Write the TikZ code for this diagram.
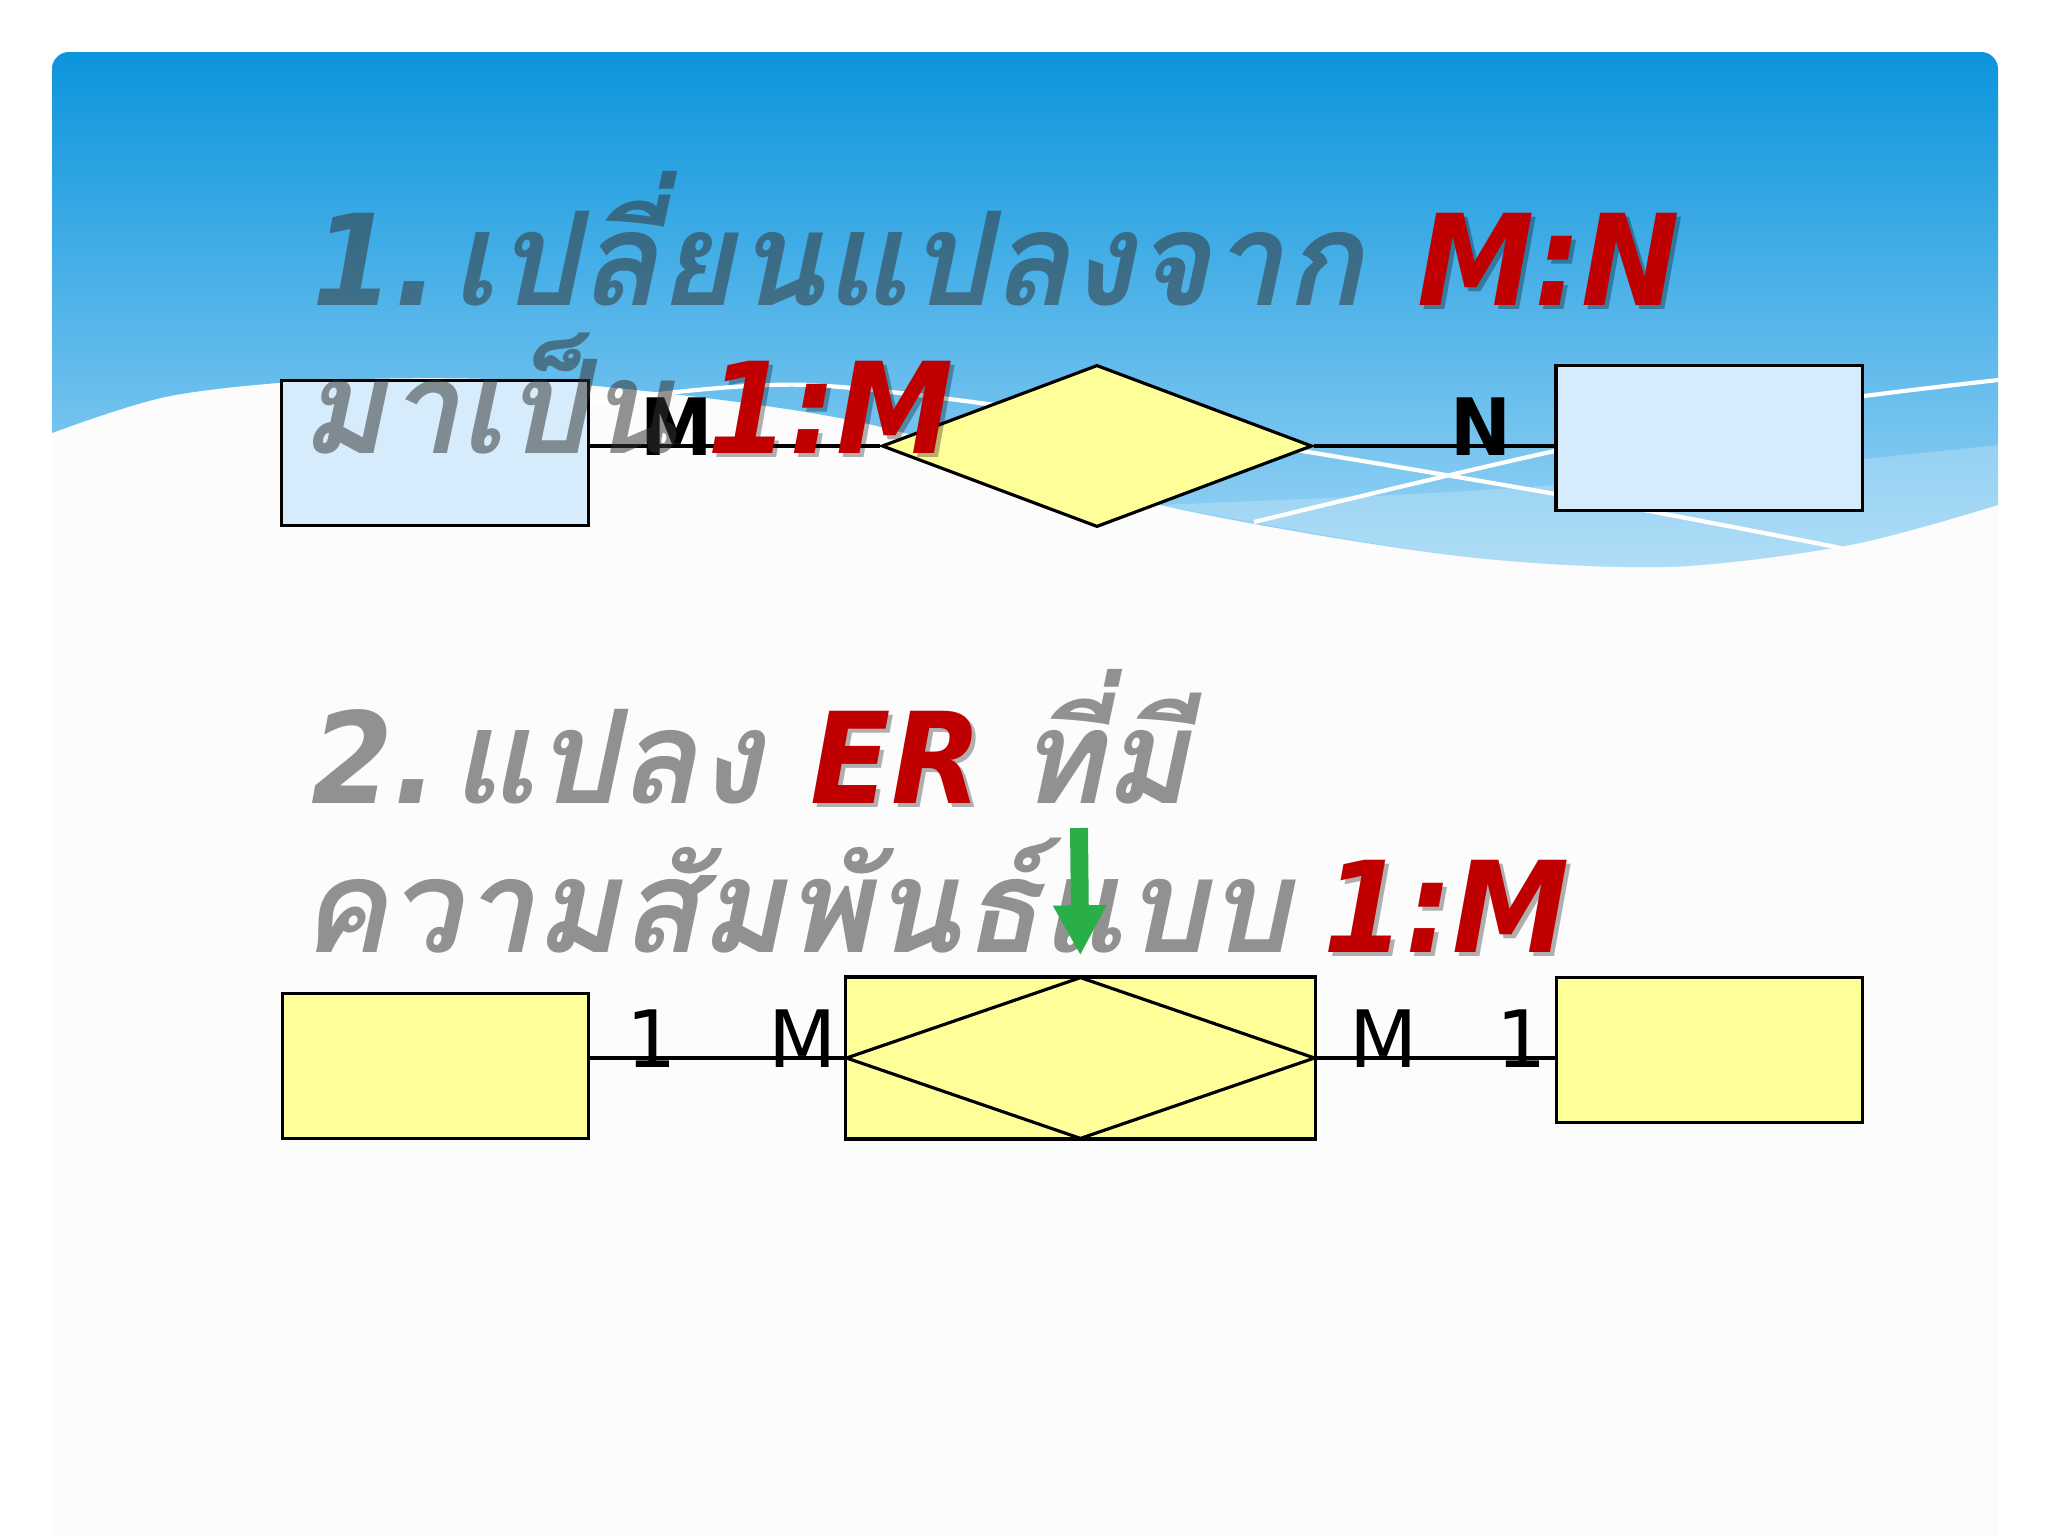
\documentclass[tikz,border=0pt]{standalone}
\usepackage{fontspec}
\setmainfont{DejaVu Sans}[BoldFeatures={FakeStretch=0.92}, BoldItalicFeatures={FakeStretch=0.93}]
\newfontfamily\thaifont[Script=Thai, Scale=1.03]{Loma}
\usetikzlibrary{shapes.geometric,arrows.meta}

\definecolor{slideblue}{HTML}{0893DC}
\definecolor{skyblue}{HTML}{2CA4E8}
\definecolor{paleblue}{HTML}{9AD4F5}
\definecolor{entblue}{HTML}{D6ECFC}
\definecolor{relyellow}{HTML}{FFFF99}
\definecolor{keyred}{HTML}{C00000}
\definecolor{arrowgreen}{HTML}{2AAE48}

\tikzset{
  entity/.style={draw, line width=0.9pt, minimum width=3.06cm, minimum height=1.45cm, inner sep=0pt},
  relation/.style={diamond, draw, line width=0.9pt, fill=relyellow, inner sep=0pt},
  link/.style={line width=0.9pt},
  card/.style={font=\fontsize{22.5}{22.5}\selectfont, anchor=base west, inner sep=0pt},
  boldcard/.style={card, font=\fontsize{22.5}{22.5}\selectfont\bfseries},
  heading/.style={font=\fontsize{36}{36}\selectfont\bfseries\itshape, anchor=base west, inner sep=0pt},
  grayhead/.style={heading, text=black!80, text opacity=0.53},
  redhead/.style={heading, text=keyred},
  redshade/.style={heading, text=black, text opacity=0.3},
}

\begin{document}
\begin{tikzpicture}[x=0.01cm,y=-0.01cm]
  \useasboundingbox (0,0) rectangle (2048,1536);
  \fill[white] (0,0) rectangle (2048,1536);
  % slide body and wavy header
  \fill[black!1, rounded corners=0.17cm] (52,52) rectangle (1998,1600);
  \begin{scope}
    \clip[rounded corners=0.17cm] (52,52) rectangle (1998,1600);
    \shade[top color=slideblue, middle color=skyblue, bottom color=paleblue]
      (40,40) -- (2010,40) -- (2010,505) --
      plot[smooth] coordinates {(1998,505) (1850,545) (1665,567) (1450,555) (1160,505) (850,420) (550,382) (330,380) (170,396) (52,433)}
      -- (40,440) -- cycle;
    \fill[white, opacity=0.22]
      plot[smooth] coordinates {(1998,445) (1750,470) (1450,492) (1160,505)} --
      plot[smooth] coordinates {(1160,505) (1450,555) (1665,567) (1850,545) (1998,505)} -- cycle;
    \draw[white, line width=1.2pt] plot[smooth] coordinates {(575,405) (810,385) (1175,431) (1567,496) (1841,548)};
    \draw[white, line width=1.2pt] plot[smooth] coordinates {(1254,522) (1555,451) (1800,405) (1998,380)};
  \end{scope}

  % M:N diagram
  \node[entity, fill=entblue] (owner) at (435,453) {};
  \node[entity, fill=entblue] (item) at (1709,438) {};
  \node[relation, minimum width=4.30cm, minimum height=1.62cm] (has) at (1097,446) {};
  \draw[link] (has.west) -- (has.west -| owner.east);
  \draw[link] (has.east) -- (has.east -| item.west);
  \node[boldcard] (cardm) at (640,455) {M};
  \node[boldcard] (cardn) at (1450,455) {N};

  % 1:M diagram
  \node[entity, fill=relyellow] (dept) at (435.5,1066) {};
  \node[entity, fill=relyellow, minimum width=4.69cm, minimum height=1.62cm] (assoc) at (1080.5,1058) {};
  \node[relation, minimum width=4.69cm, minimum height=1.62cm] (assocrel) at (assoc) {};
  \node[entity, fill=relyellow] (proj) at (1709.5,1050) {};
  \draw[link] (assoc.west) -- (assoc.west -| dept.east);
  \draw[link] (assoc.east) -- (assoc.east -| proj.west);
  \node[card] (onel) at (626,1067) {1};
  \node[card] (manyl) at (768,1067) {M};
  \node[card] (manyr) at (1349,1067) {M};
  \node[card] (oner) at (1496,1067) {1};

  % headings
  \node[grayhead] (numA) at (312,305) {1.};
  \node[grayhead] (headA) at (451,305) {\thaifont เปลี่ยนแปลงจาก};
  \node[redshade] (mnS) at (1421,309) {M:N};
  \node[redhead] (mn) at (1417,305) {M:N};
  \node[grayhead] (headB) at (300,453) {\thaifont มาเป็น};
  \node[redshade] (omS) at (711,457) {1:M};
  \node[redhead] (om) at (707,453) {1:M};
  \node[grayhead] (numC) at (311,803) {2.};
  \node[grayhead] (headC) at (451,803) {\thaifont แปลง};
  \node[redshade] (erS) at (814,807) {ER};
  \node[redhead] (er) at (810,803) {ER};
  \node[grayhead] (headD) at (1017,803) {\thaifont ที่มี};
  \node[grayhead] (headE) at (300,952) {\thaifont ความสัมพันธ์แบบ};
  \node[redshade] (om2S) at (1327,956) {1:M};
  \node[redhead] (om2) at (1323,952) {1:M};

  % pointer
  \coordinate (ptrtop) at (1079,828);
  \draw[arrowgreen, line width=5.1pt, -{Triangle[width=0.5cm,length=0.5cm]}, shorten >=0.2cm] (ptrtop) -- (assoc.north);
\end{tikzpicture}
\end{document}
